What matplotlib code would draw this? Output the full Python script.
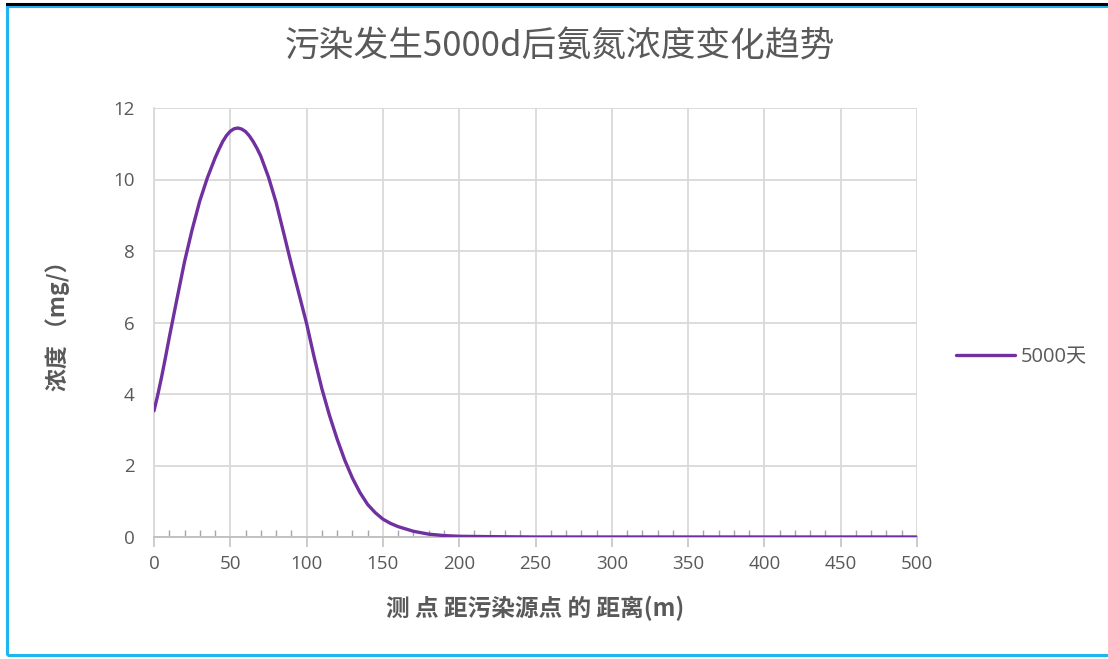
import matplotlib
matplotlib.use("Agg")
import matplotlib.pyplot as plt
from matplotlib.patches import Rectangle
from matplotlib.lines import Line2D
from matplotlib.ticker import MultipleLocator

plt.rcParams['font.family'] = ['Open Sans', 'Noto Sans CJK SC', 'DejaVu Sans']

title = "污染发生5000d后氨氮浓度变化趋势"
xlabel = "测 点 距污染源点 的 距离(m)"
ylabel = "浓度 （mg/）"
series_name = "5000天"

distance = [0, 2.5, 5, 7.5, 10, 15, 20, 25, 30, 35, 40, 42.5, 45, 47.5, 50, 52.5,
            55, 57.5, 60, 62.5, 65, 67.5, 70, 75, 80, 85, 90, 95, 100, 105, 110,
            115, 120, 125, 130, 135, 140, 145, 150, 155, 160, 170, 180, 190, 200,
            220, 250, 300, 350, 400, 450, 500]
concentration = [3.53, 3.98, 4.48, 5.02, 5.58, 6.65, 7.7, 8.6, 9.4, 10.05, 10.6,
                 10.84, 11.06, 11.23, 11.35, 11.42, 11.44, 11.41, 11.34, 11.22,
                 11.06, 10.87, 10.65, 10.07, 9.36, 8.5, 7.63, 6.8, 5.97, 5.02,
                 4.15, 3.4, 2.74, 2.15, 1.65, 1.24, 0.91, 0.68, 0.5, 0.38, 0.29,
                 0.16, 0.08, 0.04, 0.02, 0.01, 0.0, 0.0, 0.0, 0.0, 0.0, 0.0]

xticks = [0, 50, 100, 150, 200, 250, 300, 350, 400, 450, 500]
yticks = [0, 2, 4, 6, 8, 10, 12]

W, H = 1108, 659
fig = plt.figure(figsize=(W / 100, H / 100), dpi=100)
fig.patch.set_facecolor('white')

# outer frame
fig.add_artist(Line2D([7 / W, 1], [1 - 3.5 / H, 1 - 3.5 / H], color='black', lw=2.2,
                      transform=fig.transFigure))
fig.add_artist(Rectangle((7 / W, 4.5 / H), 1.2, 1 - 10.5 / H, fill=False,
                         edgecolor='#1FB5EE', lw=2.2, transform=fig.transFigure))

ax = fig.add_axes([154 / W, 1 - 537 / H, (917 - 154) / W, (537 - 108) / H])
ax.plot(distance, concentration, color='#7030A0', lw=2.4, solid_capstyle='round',
        solid_joinstyle='round', label=series_name, zorder=3)

ax.set_xlim(0, 500)
ax.set_ylim(0, 12)
ax.set_xticks(xticks)
ax.set_yticks(yticks)
ax.xaxis.set_minor_locator(MultipleLocator(10))
ax.grid(True, which='major', color='#D9D9D9', lw=1.3)
ax.set_axisbelow(True)

for s in ['top', 'right']:
    ax.spines[s].set_visible(False)
ax.spines['left'].set_color('#D9D9D9')
ax.spines['left'].set_linewidth(1.3)
ax.spines['bottom'].set_color('#BFBFBF')
ax.spines['bottom'].set_linewidth(1.3)

ax.tick_params(axis='x', which='major', direction='out', length=7, width=1.1,
               color='#BFBFBF', labelsize=13.5, labelcolor='#595959', pad=6)
ax.tick_params(axis='x', which='minor', direction='in', length=5, width=1.0,
               color='#A6A6A6')
ax.tick_params(axis='y', which='major', length=0, labelsize=13.5,
               labelcolor='#595959', pad=14)

fig.text(560 / W, 1 - 47 / H, title, ha='center', va='center', fontsize=25,
         color='#595959', family=['Noto Sans CJK SC', 'DejaVu Sans'])
fig.text(535 / W, 1 - 608 / H, xlabel, ha='center', va='center', fontsize=17,
         fontweight='bold', color='#595959', family=['Noto Sans CJK SC', 'DejaVu Sans'])
fig.text(58 / W, 1 - 320 / H, ylabel, ha='center', va='center', fontsize=16.5,
         fontweight='bold', color='#595959', rotation=90,
         family=['Noto Sans CJK SC', 'DejaVu Sans'])

leg = fig.legend(loc='center left', bbox_to_anchor=(938 / W, 1 - 357 / H),
                 frameon=False, handlelength=2.9, handletextpad=0.3,
                 prop={'family': ['Open Sans', 'Noto Sans CJK SC'], 'size': 14.5})
for t in leg.get_texts():
    t.set_color('#595959')

fig.savefig('out.png', dpi=100, facecolor='white')
